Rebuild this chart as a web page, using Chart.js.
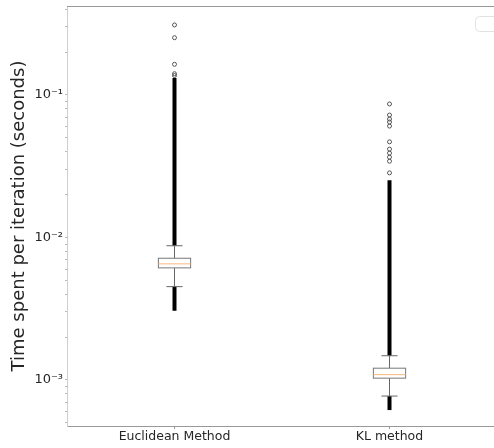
<!DOCTYPE html>
<html>
<head>
<meta charset="utf-8">
<script src="https://cdn.jsdelivr.net/npm/chart.js@4"></script>
<style>
  html, body { margin: 0; padding: 0; background: #fff; overflow: hidden; }
  #wrap { width: 502px; height: 448px; }
</style>
</head>
<body>
<div id="wrap"><canvas id="grafico" width="502" height="448"></canvas></div>
<script>
// categorias e estatísticas das caixas (segundos por iteração)
const categorias = ['Euclidean Method', 'KL method'];
const posicoes = [1, 2];
const q1 = [0.00612, 0.00103];
const medianas = [0.00653, 0.00109];
const q3 = [0.00715, 0.00121];
const bigodeInf = [0.00452, 0.000771];
const bigodeSup = [0.00875, 0.00148];
// faixa densa de outliers (fica preta de tão cheia)
const densoInf = [0.00306, 0.000615];
const densoSup = [0.1316, 0.0252];
// outliers isolados acima da faixa densa
const outliersEuc = [0.310, 0.2524, 0.1642, 0.141, 0.137];
const outliersKL = [0.0865, 0.0723, 0.0678, 0.0646, 0.0605, 0.0469, 0.0417, 0.0391, 0.0366, 0.0343, 0.0284];
const expoentes = [-4, -3, -2, -1];
const rotulosExp = { '-1': '10⁻¹', '-2': '10⁻²', '-3': '10⁻³', '-4': '10⁻⁴' };

const yMin = 4.754e-4;
const yMax = 0.4212;

const datasets = [];
posicoes.forEach(function(p, i) {
    datasets.push({
        data: [{ x: p, y: densoInf[i] }, { x: p, y: bigodeInf[i] }],
        showLine: true, borderColor: '#000', borderWidth: 4, pointRadius: 0, borderCapStyle: 'butt'
    });
    datasets.push({
        data: [{ x: p, y: bigodeSup[i] }, { x: p, y: densoSup[i] }],
        showLine: true, borderColor: '#000', borderWidth: 4, pointRadius: 0, borderCapStyle: 'butt'
    });
});
datasets.push({
    data: outliersEuc.map(v => ({ x: posicoes[0], y: v })),
    pointRadius: 2, borderWidth: 1, borderColor: '#555', backgroundColor: 'rgba(255,255,255,0)'
});
datasets.push({
    data: outliersKL.map(v => ({ x: posicoes[1], y: v })),
    pointRadius: 2, borderWidth: 1, borderColor: '#555', backgroundColor: 'rgba(255,255,255,0)'
});

// desenha caixas, bigodes e medianas usando as escalas do Chart.js
const caixas = {
    id: 'caixas',
    afterDatasetsDraw(chart) {
        const ctx = chart.ctx, x = chart.scales.x, y = chart.scales.y;
        const larg = 0.15;
        ctx.save();
        posicoes.forEach(function(p, i) {
            const xc = x.getPixelForValue(p);
            const xl = x.getPixelForValue(p - larg / 2), xr = x.getPixelForValue(p + larg / 2);
            const cl = x.getPixelForValue(p - larg / 4), cr = x.getPixelForValue(p + larg / 4);
            const yq1 = y.getPixelForValue(q1[i]), yq3 = y.getPixelForValue(q3[i]);
            const ym = y.getPixelForValue(medianas[i]);
            const yb = y.getPixelForValue(bigodeInf[i]), yt = y.getPixelForValue(bigodeSup[i]);
            ctx.lineWidth = 1;
            ctx.strokeStyle = '#666';
            ctx.beginPath();
            ctx.moveTo(xc, yq1); ctx.lineTo(xc, yb);
            ctx.moveTo(xc, yq3); ctx.lineTo(xc, yt);
            ctx.moveTo(cl, yb); ctx.lineTo(cr, yb);
            ctx.moveTo(cl, yt); ctx.lineTo(cr, yt);
            ctx.stroke();
            ctx.fillStyle = '#fff';
            ctx.fillRect(xl, yq3, xr - xl, yq1 - yq3);
            ctx.strokeStyle = '#777';
            ctx.strokeRect(xl, yq3, xr - xl, yq1 - yq3);
            ctx.strokeStyle = '#f9b67a';
            ctx.beginPath();
            ctx.moveTo(xl, ym); ctx.lineTo(xr, ym);
            ctx.stroke();
        });
        ctx.restore();
    },
    afterDraw(chart) {
        const ctx = chart.ctx, a = chart.chartArea;
        ctx.save();
        // borda superior
        ctx.strokeStyle = '#999';
        ctx.lineWidth = 1;
        ctx.beginPath();
        ctx.moveTo(a.left, a.top + 0.5); ctx.lineTo(a.right, a.top + 0.5);
        ctx.stroke();
        // legenda vazia
        ctx.strokeStyle = '#e2e2e2';
        ctx.beginPath();
        ctx.roundRect(475.5, 16.5, 40, 15, 4);
        ctx.stroke();
        ctx.restore();
    }
};

new Chart(document.getElementById('grafico').getContext('2d'), {
    type: 'scatter',
    data: { datasets: datasets },
    options: {
        responsive: false,
        animation: false,
        layout: { padding: { top: 6, left: 0, right: 1, bottom: 0 } },
        plugins: { legend: { display: false }, tooltip: { enabled: false } },
        scales: {
            x: {
                type: 'linear', min: 0.5, max: 2.5,
                afterFit: function(s) { s.height = 22; s.paddingLeft = 0; s.paddingRight = 0; },
                afterBuildTicks: function(s) { s.ticks = posicoes.map(v => ({ value: v })); },
                ticks: {
                    callback: function(v) { return categorias[posicoes.indexOf(v)] || ''; },
                    color: '#262626', font: { family: 'DejaVu Sans', size: 12.5 }, padding: 0, maxRotation: 0
                },
                grid: { drawOnChartArea: false, tickLength: 3, color: '#999' },
                border: { color: '#999' }
            },
            y: {
                type: 'logarithmic', min: yMin, max: yMax,
                afterFit: function(s) { s.width = 67; s.paddingTop = 0; s.paddingBottom = 0; },
                afterBuildTicks: function(s) {
                    const t = [];
                    expoentes.forEach(function(e) {
                        for (let m = 1; m <= 9; m++) {
                            const v = m * Math.pow(10, e);
                            if (v >= yMin && v <= yMax) t.push({ value: v, major: m === 1 });
                        }
                    });
                    s.ticks = t;
                },
                ticks: {
                    autoSkip: false,
                    callback: function(v) {
                        const e = Math.round(Math.log10(v));
                        return Math.abs(v - Math.pow(10, e)) < 1e-12 ? rotulosExp[e] : '';
                    },
                    color: '#262626', font: { family: 'DejaVu Sans', size: 13 }, padding: 2
                },
                grid: { drawOnChartArea: false, tickLength: 2, color: '#bbb' },
                border: { color: '#d0d0d0' },
                title: {
                    display: true, text: 'Time spent per iteration (seconds)',
                    color: '#262626', font: { family: 'DejaVu Sans', size: 18 }, padding: { top: 9, bottom: 0 }
                }
            }
        }
    },
    plugins: [caixas]
});
</script>
</body>
</html>
